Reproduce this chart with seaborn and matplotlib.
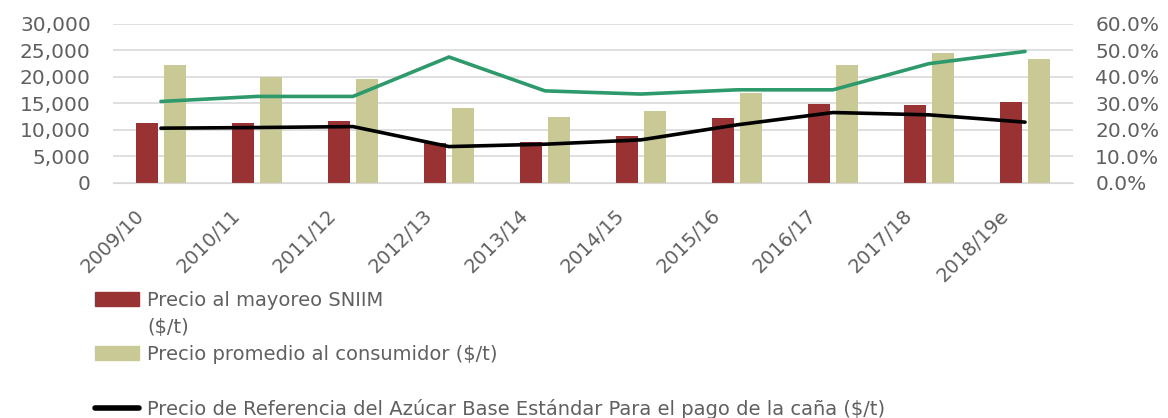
import numpy as np
import pandas as pd
import seaborn as sns
import matplotlib.pyplot as plt
import matplotlib.transforms as mtransforms
from matplotlib.patches import Patch
from matplotlib.lines import Line2D
from matplotlib.ticker import FuncFormatter, PercentFormatter

# datos
ciclos = ["2009/10", "2010/11", "2011/12", "2012/13", "2013/14",
          "2014/15", "2015/16", "2016/17", "2017/18", "2018/19e"]
mayoreo = [11250, 11200, 11630, 7580, 7770, 8900, 12200, 14850, 14700, 15340]
consumidor = [22230, 19960, 19580, 14150, 12390, 13580, 16930, 22230, 24500, 23370]
referencia = [10300, 10420, 10600, 6820, 7270, 8090, 10930, 13260, 12820, 11440]
porcentaje = [0.307, 0.326, 0.326, 0.475, 0.347, 0.335, 0.351, 0.351, 0.450, 0.496]

lbl_may = "Precio al mayoreo SNIIM"
lbl_may2 = "($/t)"
lbl_con = "Precio promedio al consumidor ($/t)"
lbl_ref = "Precio de Referencia del Azúcar Base Estándar Para el pago de la caña ($/t)"

ROJO = "#993333"
ARENA = "#c9c995"
VERDE = "#2e9a6b"
GRIS = "#606060"

sns.set_style("white")
plt.rcParams['font.family'] = ['DejaVu Sans']

bars = pd.DataFrame({
    "ciclo": ciclos * 2,
    "valor": mayoreo + consumidor,
    "serie": ["may"] * len(ciclos) + ["con"] * len(ciclos),
})
lines = pd.DataFrame({
    "pos": np.arange(len(ciclos)),
    "referencia": referencia,
    "porcentaje": porcentaje,
})

fig = plt.figure(figsize=(11.68, 4.18), dpi=100)
ax = fig.add_axes([0.0967, 0.563, 0.822, 0.3797])

sns.barplot(data=bars, x="ciclo", y="valor", hue="serie", order=ciclos,
            palette=[ROJO, ARENA], width=0.594, gap=0.23, ax=ax,
            legend=False, saturation=1, linewidth=0)
sns.lineplot(data=lines, x="pos", y="referencia", color="black", lw=2.6, ax=ax)

ax2 = ax.twinx()
sns.lineplot(data=lines, x="pos", y="porcentaje", color=VERDE, lw=2.6, ax=ax2)

ax.set_xlim(-0.5, len(ciclos) - 0.5)
ax.set_ylim(0, 30000)
ax.set_yticks(np.arange(0, 30001, 5000))
ax.yaxis.set_major_formatter(FuncFormatter(lambda v, p: f"{int(v):,}"))
ax2.set_ylim(0, 0.6)
ax2.set_yticks(np.arange(0, 0.61, 0.1))
ax2.yaxis.set_major_formatter(PercentFormatter(1.0, decimals=1))

ax.grid(axis="y", color="#d9d9d9", lw=1.2)
ax.set_axisbelow(True)
for a in (ax, ax2):
    for s in a.spines.values():
        s.set_visible(False)
    a.set_xlabel("")
    a.set_ylabel("")
ax.spines["bottom"].set_visible(True)
ax.spines["bottom"].set_color("#d9d9d9")

ax.tick_params(axis="y", length=0, pad=16, labelsize=14.5, labelcolor=GRIS)
ax2.tick_params(axis="y", length=0, pad=16, labelsize=14.5, labelcolor=GRIS)
ax.tick_params(axis="x", length=0, pad=17, labelsize=14, labelcolor=GRIS)
ax.set_xticks(range(len(ciclos)))
ax.set_xticklabels(ciclos, rotation=45, ha="right", va="top", rotation_mode="anchor")
off = mtransforms.ScaledTranslation(-0.26, 0, fig.dpi_scale_trans)
for t in ax.get_xticklabels():
    t.set_transform(t.get_transform() + off)

vacio = Line2D([], [], color="none")
handles = [Patch(color=ROJO), vacio, Patch(color=ARENA), vacio,
           Line2D([], [], color="black", lw=4)]
labels = [lbl_may, lbl_may2, lbl_con, " ", lbl_ref]
leg = fig.legend(handles, labels, loc="upper left", bbox_to_anchor=(0.081, 0.305),
                 frameon=False, fontsize=14, handlelength=2.3, handleheight=0.72,
                 handletextpad=0.4, labelspacing=0.42, borderpad=0, borderaxespad=0)
for t in leg.get_texts():
    t.set_color(GRIS)

fig.savefig("out.png", dpi=100)
